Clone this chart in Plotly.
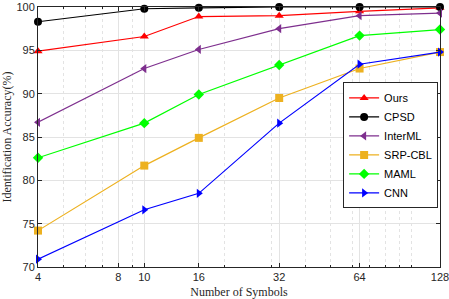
import plotly.graph_objects as go

symbols = [4, 10, 16, 32, 64, 128]
ours = [94.9, 96.6, 98.9, 99.0, 99.5, 99.9]
cpsd = [98.3, 99.8, 99.9, 100.0, 100.0, 100.0]
interml = [86.7, 92.9, 95.1, 97.5, 99.0, 99.3]
srp_cbl = [74.2, 81.7, 84.9, 89.5, 92.9, 94.8]
maml = [82.6, 86.6, 89.9, 93.3, 96.7, 97.4]
cnn = [70.9, 76.6, 78.5, 86.6, 93.4, 94.8]

x_ticks = [4, 8, 10, 16, 32, 64, 128]
x_minor = [5, 6, 7, 9, 20, 30, 40, 50, 60, 70, 80, 90, 100]
y_ticks = [70, 75, 80, 85, 90, 95, 100]

series = [
    ("Ours", ours, "#FF0000", "triangle-up"),
    ("CPSD", cpsd, "#000000", "circle"),
    ("InterML", interml, "#7E2F8E", "triangle-left"),
    ("SRP-CBL", srp_cbl, "#EDB120", "square"),
    ("MAML", maml, "#00FF00", "diamond"),
    ("CNN", cnn, "#0000FF", "triangle-right"),
]

fig = go.Figure()
for name, vals, color, sym in series:
    fig.add_trace(go.Scatter(
        x=symbols, y=vals, name=name, mode="lines+markers",
        line=dict(color=color, width=1.2),
        marker=dict(symbol=sym, size=8, color=color),
        cliponaxis=False,
    ))

axis_common = dict(
    showline=True, linecolor="#262626", linewidth=1, mirror="ticks",
    ticks="inside", ticklen=4, tickcolor="#262626",
    showgrid=True, gridcolor="#E3E3E3", gridwidth=1, zeroline=False,
    automargin=False, ticklabeloverflow="allow",
    tickfont=dict(family="Liberation Sans, Arial", size=11, color="#262626"),
)

fig.update_xaxes(
    type="log", range=[0.6020, 2.1073],
    tickvals=x_ticks, ticktext=[str(v) for v in x_ticks],
    minor=dict(tickvals=x_minor, showgrid=True, gridcolor="#E3E3E3",
               griddash="dot", ticks="inside", ticklen=2, tickcolor="#262626"),
    title=dict(text="Number of Symbols",
               font=dict(family="Liberation Serif, Times New Roman", size=12, color="#262626")),
    **axis_common,
)
fig.update_yaxes(
    range=[70, 100], tickvals=y_ticks,
    title=dict(text="Identification Accuracy(%)",
               font=dict(family="Liberation Serif, Times New Roman", size=12, color="#262626")),
    **axis_common,
)

fig.update_layout(
    width=449, height=299,
    margin=dict(l=38, r=9, t=7, b=32),
    plot_bgcolor="white", paper_bgcolor="white",
    showlegend=True,
    legend=dict(
        x=0.759, y=0.71, xanchor="left", yanchor="top",
        bgcolor="white", bordercolor="#262626", borderwidth=1,
        font=dict(family="Liberation Sans, Arial", size=11, color="#000000"),
        tracegroupgap=0, itemwidth=30,
    ),
)

fig.write_html("out.html", config={"displayModeBar": False},
               post_script="document.body.style.margin='0';")
